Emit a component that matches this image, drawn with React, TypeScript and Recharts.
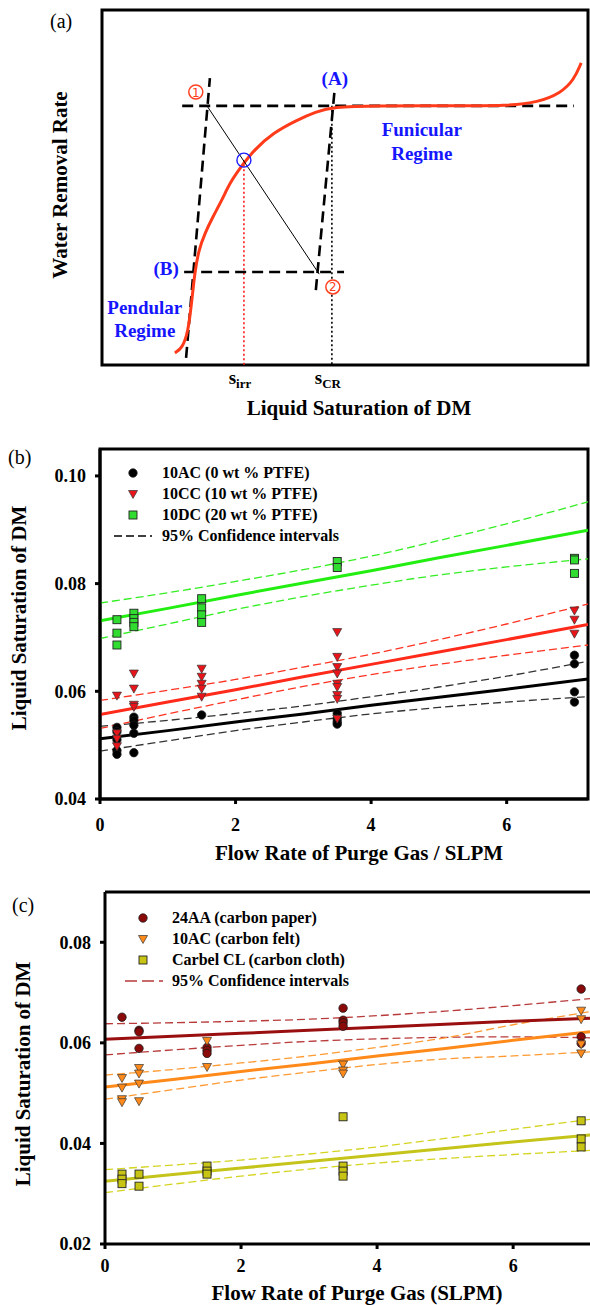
import React from 'react';
import { ComposedChart, Line, Scatter, XAxis, YAxis, ReferenceArea, ReferenceLine } from 'recharts';

const SERIF = '"Liberation Serif", "Times New Roman", Times, serif';

// ---------- panel (a): schematic ----------
const curveX = [15.0, 16.5, 17.7, 18.5, 19.1, 19.9, 21.2, 22.8, 24.7, 26.3, 28.6, 31.3, 35.2, 40.1, 44.0, 47.5, 56.4, 71.8, 83.5, 89.7, 94.4, 97.1, 98.6];
const curveY = [3.4, 4.8, 9.0, 18.3, 26.2, 32.4, 37.2, 41.7, 46.5, 51.3, 55.8, 60.6, 65.4, 69.0, 71.3, 72.7, 73.0, 73.0, 73.0, 74.0, 76.6, 80.3, 85.1];
const upperDashX = [16.5, 97.1];
const upperDashY = [73, 73];
const lowerDashX = [16.9, 49.8];
const lowerDashY = [26.2, 26.2];
const steepAX = [17.3, 22.2];
const steepAY = [2.0, 80.8];
const steepBX = [44.0, 47.9];
const steepBY = [21.1, 78.0];
const tieX = [21.6, 44.7];
const tieY = [73.0, 25.6];
const sIrr = 29.2;
const sCR = 47.3;
const irrDropY = [57.7, 0];
const crDropY = [73, 0];
const blueMarks = [{ x: 29.2, y: 57.7 }];
const circledNums = [
  { x: 19.3, y: 76.9, label: '1' },
  { x: 47.5, y: 22.0, label: '2' },
];
const blueLabels = [
  { x: 47.9, y: 80.8, label: '(A)' },
  { x: 13.2, y: 27.3, label: '(B)' },
  { x: 65.8, y: 66.2, label: 'Funicular' },
  { x: 65.8, y: 59.7, label: 'Regime' },
  { x: 8.8, y: 16.3, label: 'Pendular' },
  { x: 8.8, y: 9.6, label: 'Regime' },
];

// ---------- panel (b): PTFE loading ----------
const flowRates = [0.25, 0.5, 1.5, 3.5, 7];
const ac0 = [
  [0.0533, 0.0525, 0.0510, 0.0490, 0.0483],
  [0.0552, 0.0546, 0.0537, 0.0522, 0.0486],
  [0.0556],
  [0.0559, 0.0549, 0.0543, 0.0539],
  [0.0667, 0.0651, 0.0599, 0.0580],
];
const cc10 = [
  [0.0592, 0.0522, 0.0512, 0.0498],
  [0.0633, 0.0605, 0.0575, 0.0571],
  [0.0642, 0.0627, 0.0614, 0.0605, 0.0590],
  [0.0710, 0.0664, 0.0645, 0.0633, 0.0614, 0.0608, 0.0593, 0.0586, 0.0549],
  [0.0750, 0.0733, 0.0707],
];
const dc20 = [
  [0.0733, 0.0708, 0.0686],
  [0.0745, 0.0735, 0.0728, 0.0720],
  [0.0772, 0.0755, 0.0742, 0.0728],
  [0.0841, 0.0830],
  [0.0847, 0.0844, 0.0819],
];
const fitXB = [0, 1, 2, 3, 4, 5, 6, 7.2];
const acFit = [0.0512, 0.0527, 0.0543, 0.0558, 0.0574, 0.0589, 0.0604, 0.0623];
const acUp = [0.0535, 0.0546, 0.0559, 0.0573, 0.0590, 0.0608, 0.0628, 0.0656];
const acLo = [0.0489, 0.0508, 0.0527, 0.0543, 0.0558, 0.0570, 0.0580, 0.0590];
const ccFit = [0.0557, 0.0580, 0.0603, 0.0627, 0.0650, 0.0673, 0.0696, 0.0724];
const ccUp = [0.0583, 0.0602, 0.0622, 0.0645, 0.0669, 0.0696, 0.0725, 0.0762];
const ccLo = [0.0531, 0.0558, 0.0584, 0.0609, 0.0631, 0.0650, 0.0667, 0.0686];
const dcFit = [0.0731, 0.0754, 0.0778, 0.0801, 0.0824, 0.0848, 0.0871, 0.0899];
const dcUp = [0.0764, 0.0783, 0.0804, 0.0826, 0.0851, 0.0880, 0.0911, 0.0952];
const dcLo = [0.0698, 0.0725, 0.0752, 0.0776, 0.0797, 0.0816, 0.0831, 0.0846];
const ticksB = [0.04, 0.06, 0.08, 0.10];

// ---------- panel (c): substrate type ----------
const paper24AA = [
  [0.0651],
  [0.0625, 0.0622, 0.0589],
  [0.0591, 0.0585, 0.0579],
  [0.0669, 0.0645, 0.0640, 0.0633],
  [0.0707, 0.0612, 0.0599],
];
const felt10AC = [
  [0.0530, 0.0511, 0.0488, 0.0482],
  [0.0550, 0.0539, 0.0519, 0.0484],
  [0.0604, 0.0552],
  [0.0557, 0.0545, 0.0539],
  [0.0664, 0.0647, 0.0597, 0.0579],
];
const clothCL = [
  [0.0339, 0.0329, 0.0320],
  [0.0339, 0.0315],
  [0.0355, 0.0345, 0.0339],
  [0.0453, 0.0355, 0.0345, 0.0335],
  [0.0445, 0.0409, 0.0393],
];
const fitXC = [0, 1, 2, 3, 4, 5, 6, 7.13];
const paperFit = [0.0607, 0.0613, 0.0619, 0.0625, 0.0631, 0.0637, 0.0643, 0.0649];
const paperUp = [0.0638, 0.0640, 0.0643, 0.0647, 0.0654, 0.0663, 0.0674, 0.0688];
const paperLo = [0.0576, 0.0586, 0.0595, 0.0603, 0.0608, 0.0611, 0.0612, 0.0610];
const feltFit = [0.0512, 0.0527, 0.0543, 0.0558, 0.0574, 0.0589, 0.0605, 0.0622];
const feltUp = [0.0536, 0.0547, 0.0560, 0.0574, 0.0591, 0.0610, 0.0636, 0.0662];
const feltLo = [0.0488, 0.0507, 0.0526, 0.0542, 0.0557, 0.0568, 0.0574, 0.0582];
const clothFit = [0.0325, 0.0338, 0.0351, 0.0364, 0.0377, 0.0390, 0.0403, 0.0417];
const clothUp = [0.0348, 0.0357, 0.0367, 0.0379, 0.0393, 0.0410, 0.0428, 0.0448];
const clothLo = [0.0302, 0.0319, 0.0335, 0.0349, 0.0361, 0.0370, 0.0378, 0.0386];
const ticksC = [0.02, 0.04, 0.06, 0.08];
const flowTicks = [0, 2, 4, 6];

const pts = (xs: number[], ys: number[]) => xs.map((x, i) => ({ x, y: ys[i] }));
const groupPts = (groups: number[][]) =>
  groups.flatMap((vals, i) => vals.map((y) => ({ x: flowRates[i], y })));

// marker shapes
const circleShape = (fill: string) => (p: any) => (
  <circle cx={p.cx} cy={p.cy} r={4.2} fill={fill} stroke="#1a1a1a" strokeWidth={0.8} />
);
const triShape = (fill: string) => (p: any) => (
  <path
    d={`M${p.cx - 4.5},${p.cy - 3.5}L${p.cx + 4.5},${p.cy - 3.5}L${p.cx},${p.cy + 4.5}Z`}
    fill={fill}
    stroke="#333"
    strokeWidth={0.7}
  />
);
const squareShape = (fill: string) => (p: any) => (
  <rect x={p.cx - 4} y={p.cy - 4} width={8} height={8} fill={fill} stroke="#222" strokeWidth={0.9} />
);

const blueText = (p: any) => (
  <text x={p.cx} y={p.cy} textAnchor="middle" dominantBaseline="central" fill="#1515ff" fontSize={19} fontWeight="bold" fontFamily={SERIF}>
    {p.payload.label}
  </text>
);
const circledNum = (p: any) => (
  <g>
    <circle cx={p.cx} cy={p.cy} r={7} fill="#fff" stroke="#ff4020" strokeWidth={1.5} />
    <text x={p.cx} y={p.cy + 0.5} textAnchor="middle" dominantBaseline="central" fill="#ff4020" fontSize={12} fontFamily="DejaVu Sans, sans-serif">
      {p.payload.label}
    </text>
  </g>
);
const blueRing = (p: any) => <circle cx={p.cx} cy={p.cy} r={7} fill="none" stroke="#1a1aff" strokeWidth={1.4} />;

const SatTick = (p: any) => {
  const sub = p.payload.value === sIrr ? 'irr' : 'CR';
  return (
    <text x={p.x - 4} y={p.y + 19} textAnchor="middle" fontFamily={SERIF} fontWeight="bold" fontSize={19} fill="#000">
      s<tspan fontSize={13} dy={4}>{sub}</tspan>
    </text>
  );
};

const tickFont = { fill: '#000', fontSize: 18, fontWeight: 'bold', fontFamily: SERIF } as any;
const axisStroke = { stroke: '#000', strokeWidth: 3 };

function Text({ x, y, size = 21, rotate = false, weight = 'bold', left = false, children }: any) {
  return (
    <div
      style={{
        position: 'absolute',
        left: x,
        top: y,
        transform: `translate(${left ? '0' : '-50%'},-50%)${rotate ? ' rotate(-90deg)' : ''}`,
        fontFamily: SERIF,
        fontSize: size,
        fontWeight: weight,
        whiteSpace: 'nowrap',
        lineHeight: 1,
        color: '#000',
      }}
    >
      {children}
    </div>
  );
}

function Marker({ x, y, kind, fill, dash }: any) {
  return (
    <svg style={{ position: 'absolute', left: x - 22, top: y - 6 }} width={44} height={12}>
      {kind === 'circle' && <circle cx={22} cy={6} r={4.2} fill={fill} stroke="#1a1a1a" strokeWidth={0.8} />}
      {kind === 'tri' && <path d="M17.5,2.5L26.5,2.5L22,10.5Z" fill={fill} stroke="#333" strokeWidth={0.7} />}
      {kind === 'square' && <rect x={18} y={2} width={8} height={8} fill={fill} stroke="#222" strokeWidth={0.9} />}
      {kind === 'dash' && <line x1={3} y1={6} x2={41} y2={6} stroke={fill} strokeWidth={1.3} strokeDasharray={dash} />}
    </svg>
  );
}

function PanelA() {
  return (
    <ComposedChart width={590} height={420} margin={{ top: 10, right: 2, left: 102, bottom: 25 }}>
      <XAxis dataKey="x" type="number" domain={[0, 100]} ticks={[sIrr, sCR]} interval={0} axisLine={false} tickLine={false} tickSize={0} tickMargin={0} tick={SatTick} height={30} />
      <YAxis dataKey="y" type="number" domain={[0, 100]} hide />
      <ReferenceArea x1={0} x2={100} y1={0} y2={100} fill="none" stroke="#000" strokeWidth={3} fillOpacity={0} />
      <Line data={pts([sIrr, sIrr], irrDropY)} dataKey="y" type="linear" stroke="#ff1a1a" strokeWidth={1.6} strokeDasharray="2 2.5" dot={false} activeDot={false} isAnimationActive={false} />
      <Line data={pts([sCR, sCR], crDropY)} dataKey="y" type="linear" stroke="#000" strokeWidth={1.6} strokeDasharray="2 2.5" dot={false} activeDot={false} isAnimationActive={false} />
      <Line data={pts(upperDashX, upperDashY)} dataKey="y" type="linear" stroke="#000" strokeWidth={2.6} strokeDasharray="11 6" dot={false} activeDot={false} isAnimationActive={false} />
      <Line data={pts(lowerDashX, lowerDashY)} dataKey="y" type="linear" stroke="#000" strokeWidth={2.6} strokeDasharray="11 6" dot={false} activeDot={false} isAnimationActive={false} />
      <Line data={pts(steepAX, steepAY)} dataKey="y" type="linear" stroke="#000" strokeWidth={2.6} strokeDasharray="11 6" dot={false} activeDot={false} isAnimationActive={false} />
      <Line data={pts(steepBX, steepBY)} dataKey="y" type="linear" stroke="#000" strokeWidth={2.6} strokeDasharray="11 6" dot={false} activeDot={false} isAnimationActive={false} />
      <Line data={pts(curveX, curveY)} dataKey="y" type="basis" stroke="#ff3b1a" strokeWidth={3} dot={false} activeDot={false} isAnimationActive={false} />
      <Line data={pts(tieX, tieY)} dataKey="y" type="linear" stroke="#000" strokeWidth={1} dot={false} activeDot={false} isAnimationActive={false} />
      <Scatter data={blueMarks} shape={blueRing} isAnimationActive={false} />
      <Scatter data={circledNums} shape={circledNum} isAnimationActive={false} />
      <Scatter data={blueLabels} shape={blueText} isAnimationActive={false} />
    </ComposedChart>
  );
}

const ciLine = (data: any[], color: string, key: string) => (
  <Line key={key} data={data} dataKey="y" type="monotone" stroke={color} strokeWidth={1.3} strokeDasharray="8 4" dot={false} activeDot={false} isAnimationActive={false} />
);
const fitLine = (data: any[], color: string, key: string) => (
  <Line key={key} data={data} dataKey="y" type="linear" stroke={color} strokeWidth={3} dot={false} activeDot={false} isAnimationActive={false} />
);

function PanelB() {
  return (
    <ComposedChart width={590} height={440} margin={{ top: 29, right: 2, left: 0, bottom: 31 }}>
      <XAxis dataKey="x" type="number" domain={[0, 7.2]} ticks={flowTicks} interval={0} allowDataOverflow axisLine={axisStroke} tickLine={axisStroke} tickSize={5} tickMargin={14} tick={tickFont} height={30} />
      <YAxis dataKey="y" type="number" domain={[0.04, 0.105]} ticks={ticksB} interval={0} allowDataOverflow axisLine={axisStroke} tickLine={axisStroke} tickSize={5} tickMargin={9} tick={tickFont} tickFormatter={(v: number) => v.toFixed(2)} width={100} />
      <ReferenceArea x1={0} x2={7.2} y1={0.04} y2={0.105} fill="none" fillOpacity={0} stroke="#000" strokeWidth={3} />
      {ciLine(pts(fitXB, acUp), '#333', 'au')}
      {ciLine(pts(fitXB, acLo), '#333', 'al')}
      {ciLine(pts(fitXB, ccUp), '#ff3322', 'cu')}
      {ciLine(pts(fitXB, ccLo), '#ff3322', 'cl')}
      {ciLine(pts(fitXB, dcUp), '#33ee22', 'du')}
      {ciLine(pts(fitXB, dcLo), '#33ee22', 'dl')}
      {fitLine(pts(fitXB, acFit), '#000', 'af')}
      {fitLine(pts(fitXB, ccFit), '#ff2a1a', 'cf')}
      {fitLine(pts(fitXB, dcFit), '#22ee11', 'df')}
      <Scatter data={groupPts(ac0)} shape={circleShape('#000')} isAnimationActive={false} />
      <Scatter data={groupPts(cc10)} shape={triShape('#e8141a')} isAnimationActive={false} />
      <Scatter data={groupPts(dc20)} shape={squareShape('#2fdc2f')} isAnimationActive={false} />
    </ComposedChart>
  );
}

function PanelC() {
  return (
    <ComposedChart width={590} height={445} margin={{ top: 32, right: 0, left: 0, bottom: 31 }}>
      <XAxis dataKey="x" type="number" domain={[0, 7.13]} ticks={flowTicks} interval={0} allowDataOverflow axisLine={axisStroke} tickLine={axisStroke} tickSize={5} tickMargin={10} tick={tickFont} height={30} />
      <YAxis dataKey="y" type="number" domain={[0.02, 0.09]} ticks={ticksC} interval={0} allowDataOverflow axisLine={axisStroke} tickLine={axisStroke} tickSize={5} tickMargin={9} tick={tickFont} tickFormatter={(v: number) => v.toFixed(2)} width={105} />
      <ReferenceLine y={0.09} stroke="#000" strokeWidth={3} />
      {ciLine(pts(fitXC, paperUp), '#b83a3a', 'pu')}
      {ciLine(pts(fitXC, paperLo), '#b83a3a', 'pl')}
      {ciLine(pts(fitXC, feltUp), '#ff9a33', 'fu')}
      {ciLine(pts(fitXC, feltLo), '#ff9a33', 'fl')}
      {ciLine(pts(fitXC, clothUp), '#d4d420', 'cu')}
      {ciLine(pts(fitXC, clothLo), '#d4d420', 'cl')}
      {fitLine(pts(fitXC, paperFit), '#990f0f', 'pf')}
      {fitLine(pts(fitXC, feltFit), '#ff8a1a', 'ff')}
      {fitLine(pts(fitXC, clothFit), '#c4c41a', 'cf')}
      <Scatter data={groupPts(paper24AA)} shape={circleShape('#8a0a0a')} isAnimationActive={false} />
      <Scatter data={groupPts(felt10AC)} shape={triShape('#ff8a1a')} isAnimationActive={false} />
      <Scatter data={groupPts(clothCL)} shape={squareShape('#c8c414')} isAnimationActive={false} />
    </ComposedChart>
  );
}

export default function App() {
  return (
    <div style={{ position: 'absolute', left: 0, top: 0, width: 590, height: 1305, background: '#fff', overflow: 'hidden' }}>
      <div style={{ position: 'absolute', left: 0, top: 0 }}>
        <PanelA />
      </div>
      <div style={{ position: 'absolute', left: 0, top: 420 }}>
        <PanelB />
      </div>
      <div style={{ position: 'absolute', left: 0, top: 860 }}>
        <PanelC />
      </div>

      {/* panel (a) text */}
      <Text x={50} y={21} size={20} weight="normal" left>(a)</Text>
      <Text x={60} y={185} rotate>Water Removal Rate</Text>
      <Text x={359} y={408}>Liquid Saturation of DM</Text>

      {/* panel (b) text */}
      <Text x={8} y={457} size={20} weight="normal" left>(b)</Text>
      <Text x={19} y={618} rotate>Liquid Saturation of DM</Text>
      <Text x={359} y={853}>Flow Rate of Purge Gas / SLPM</Text>
      <Marker x={133} y={473} kind="circle" fill="#000" />
      <Marker x={133} y={494} kind="tri" fill="#e8141a" />
      <Marker x={133} y={515} kind="square" fill="#2fdc2f" />
      <Marker x={133} y={536} kind="dash" fill="#000" dash="8 4" />
      <Text x={162} y={473} size={16} left>10AC (0 wt % PTFE)</Text>
      <Text x={162} y={494} size={16} left>10CC (10 wt % PTFE)</Text>
      <Text x={162} y={515} size={16} left>10DC (20 wt % PTFE)</Text>
      <Text x={162} y={536} size={16} left>95% Confidence intervals</Text>

      {/* panel (c) text */}
      <Text x={12} y={905} size={20} weight="normal" left>(c)</Text>
      <Text x={23} y={1074} rotate>Liquid Saturation of DM</Text>
      <Text x={357} y={1293}>Flow Rate of Purge Gas (SLPM)</Text>
      <Marker x={143} y={918} kind="circle" fill="#8a0a0a" />
      <Marker x={143} y={939} kind="tri" fill="#ff8a1a" />
      <Marker x={143} y={960} kind="square" fill="#c8c414" />
      <Marker x={144} y={981} kind="dash" fill="#b83a3a" dash="12 5" />
      <Text x={172} y={918} size={16} left>24AA (carbon paper)</Text>
      <Text x={172} y={939} size={16} left>10AC (carbon felt)</Text>
      <Text x={172} y={960} size={16} left>Carbel CL (carbon cloth)</Text>
      <Text x={172} y={981} size={16} left>95% Confidence intervals</Text>
    </div>
  );
}
